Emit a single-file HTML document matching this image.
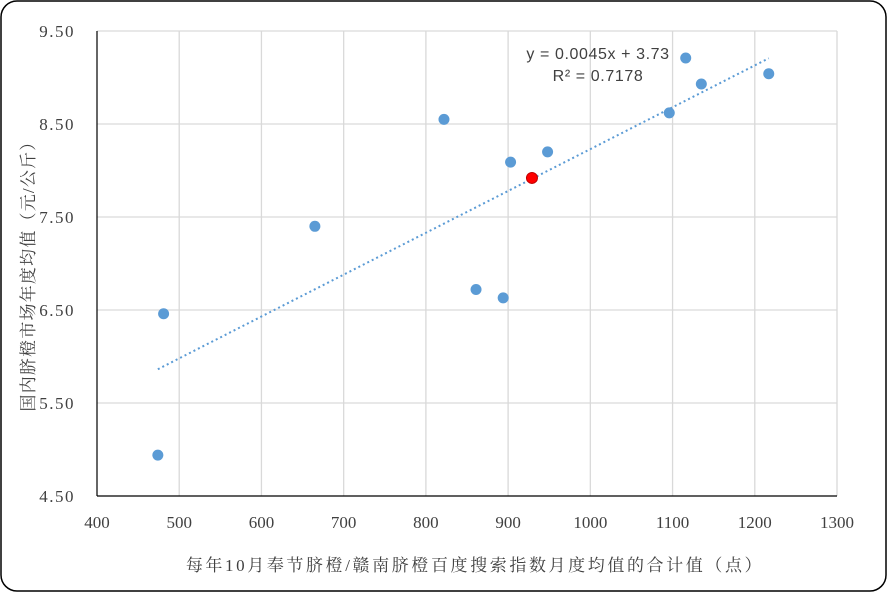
<!DOCTYPE html>
<html><head><meta charset="utf-8"><style>
body{margin:0;background:#fff;}
svg{display:block;font-family:"Liberation Serif","Noto Serif CJK SC",serif;}
</style></head><body>
<svg width="887" height="592" viewBox="0 0 887 592">
<rect x="1" y="1" width="885" height="590" rx="16" fill="#fff" stroke="#000" stroke-width="1.5"/>
<g id="grid"></g><g id="axes"></g><g id="trend"></g><g id="pts"></g>
<text x="598" y="59" font-family="Liberation Sans, sans-serif" font-size="16" letter-spacing="0.6" fill="#404040" text-anchor="middle">y = 0.0045x + 3.73</text>
<text x="598" y="81" font-family="Liberation Sans, sans-serif" font-size="16" letter-spacing="0.6" fill="#404040" text-anchor="middle">R² = 0.7178</text>
<text x="475" y="571" font-size="17" fill="#404040" text-anchor="middle" letter-spacing="2.6">每年10月奉节脐橙/赣南脐橙百度搜索指数月度均值的合计值（点）</text>
<text transform="translate(34,272) rotate(-90)" font-size="17" fill="#404040" text-anchor="middle" letter-spacing="1.2">国内脐橙市场年度均值（元/公斤）</text>
</svg>
<script>
const xTicks=[400,500,600,700,800,900,1000,1100,1200,1300];
const yTicks=[4.5,5.5,6.5,7.5,8.5,9.5];
const xVals=[474,481,665,822,861,894,903,948,1096,1116,1135,1217];
const yVals=[4.94,6.46,7.40,8.55,6.72,6.63,8.09,8.20,8.62,9.21,8.93,9.04];
const highlightX=[929];
const highlightY=[7.92];
const slope=0.0045, intercept=3.73;
const NS="http://www.w3.org/2000/svg";
const X=v=>97+(v-400)*(740/900);
const Y=v=>496-(v-4.5)*93;
function mk(p,t,a){const e=document.createElementNS(NS,t);for(const k in a)e.setAttribute(k,a[k]);document.getElementById(p).appendChild(e);return e;}
xTicks.forEach(v=>{
 if(v>400){const g=mk('grid','line',{x1:X(v),x2:X(v),y1:Y(9.5),y2:Y(4.5),stroke:'#d9d9d9','stroke-width':1.3});
 
 }
 const t=mk('axes','text',{x:X(v),y:528,'font-size':17,fill:'#404040','text-anchor':'middle'});t.textContent=v;
 
 
});
yTicks.forEach(v=>{
 if(v>4.5){const g=mk('grid','line',{x1:X(400),x2:X(1300),y1:Y(v),y2:Y(v),stroke:'#d9d9d9','stroke-width':1.3});
 
 }
 const t=mk('axes','text',{x:75,y:Y(v)+6,'font-size':17,'letter-spacing':1.5,fill:'#404040','text-anchor':'end'});t.textContent=v.toFixed(2);
 
 
});
const ax=mk('axes','line',{x1:X(400),x2:X(1300),y1:Y(4.5),y2:Y(4.5),stroke:'#000','stroke-width':1.2});


const ay=mk('axes','line',{x1:X(400),x2:X(400),y1:Y(9.5),y2:Y(4.5),stroke:'#000','stroke-width':1.2});


const all=xVals.concat(highlightX);const mn=Math.min(...all),mx=Math.max(...all);
const tl=mk('trend','line',{x1:X(mn),y1:Y(slope*mn+intercept),x2:X(mx),y2:Y(slope*mx+intercept),stroke:'#5b9bd5','stroke-width':2,'stroke-dasharray':'2,3'});


xVals.forEach((v,i)=>{const c=mk('pts','circle',{cx:X(v),cy:Y(yVals[i]),r:5.5,fill:'#5b9bd5'});
 
 });
highlightX.forEach((v,i)=>{const c=mk('pts','circle',{cx:X(v),cy:Y(highlightY[i]),r:5.5,fill:'#ff0000',stroke:'#c00000','stroke-width':1});
 
 });
</script>
</body></html>
